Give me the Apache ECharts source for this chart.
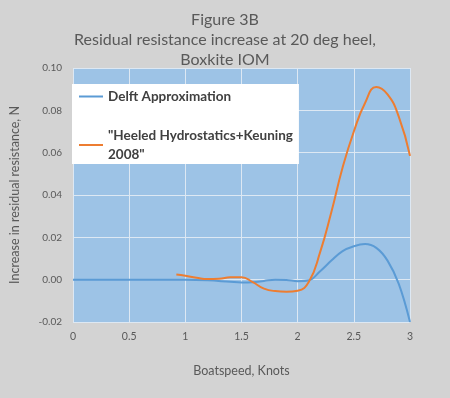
<!DOCTYPE html>
<html>
<head>
<meta charset="utf-8">
<script src="https://cdn.jsdelivr.net/npm/echarts@6/dist/echarts.min.js"></script>
<style>
  html, body { margin: 0; padding: 0; background: #d3d3d3; }
  #chart { width: 450px; height: 398px; }
</style>
</head>
<body>
<div id="chart"></div>
<script>
// Delft approximation, boatspeed (knots) vs residual resistance increase (N)
const delftSpeed = [0, 0.5, 1.0, 1.2, 1.4, 1.5, 1.6, 1.7, 1.8, 1.9, 2.0, 2.1, 2.2, 2.3, 2.4, 2.5, 2.6, 2.7, 2.8, 2.9, 3.0];
const delftValues = [0, 0, 0, -0.0003, -0.001, -0.0013, -0.0012, -0.0006, 0, -0.0001, -0.0007, -0.0003, 0.004, 0.009, 0.0135, 0.0158, 0.0168, 0.015, 0.009, -0.002, -0.02];

// Heeled hydrostatics + Keuning 2008
const keuningSpeed = [0.92, 1.0, 1.1, 1.2, 1.3, 1.4, 1.5, 1.6, 1.7, 1.8, 1.9, 2.0, 2.1, 2.2, 2.3, 2.4, 2.5, 2.6, 2.7, 2.8, 2.9, 3.0];
const keuningValues = [0.0024, 0.0018, 0.0009, 0.0003, 0.0004, 0.0011, 0.0012, -0.0012, -0.0042, -0.0054, -0.0057, -0.0052, -0.001, 0.013, 0.032, 0.053, 0.07, 0.0835, 0.091, 0.0875, 0.077, 0.0585];

const xTicks = [0, 0.5, 1, 1.5, 2, 2.5, 3];
const seriesNames = ['Delft Approximation', '"Heeled Hydrostatics+Keuning 2008"'];

const pairs = (xs, ys) => xs.map((x, i) => [x, ys[i]]);

const chart = echarts.init(document.getElementById('chart'));
const font = 'Lato, "Open Sans", sans-serif';

chart.setOption({
  backgroundColor: '#d3d3d3',
  animation: false,
  title: {
    text: 'Figure 3B\nResidual resistance increase at 20 deg heel,\nBoxkite IOM',
    left: 'center',
    top: 5,
    textStyle: { color: '#595959', fontSize: 16, fontWeight: 'normal', fontFamily: font, lineHeight: 20 }
  },
  legend: {
    orient: 'vertical',
    left: 72,
    top: 84,
    backgroundColor: '#ffffff',
    borderRadius: 0,
    padding: [3, 6, 0, 7],
    itemGap: 20,
    itemWidth: 24,
    itemHeight: 2,
    icon: 'rect',
    formatter: name => name === seriesNames[1] ? '"Heeled Hydrostatics+Keuning\n2008"' : name,
    textStyle: { color: '#404040', fontSize: 13.5, fontWeight: 'bold', fontFamily: font, lineHeight: 19 }
  },
  grid: {
    left: 68, right: 40, top: 68, bottom: 76,
    show: true, backgroundColor: '#9dc3e6', borderWidth: 0
  },
  xAxis: {
    type: 'value',
    min: 0, max: 3, interval: 0.5,
    name: 'Boatspeed, Knots',
    nameLocation: 'middle',
    nameGap: 42,
    nameTextStyle: { color: '#595959', fontSize: 12.5, fontFamily: font },
    axisLine: { show: false },
    axisTick: { show: false },
    axisLabel: {
      color: '#595959', fontSize: 10.5, fontFamily: font, margin: 9,
      formatter: v => xTicks.includes(v) ? String(v) : ''
    },
    splitLine: { show: true, lineStyle: { color: '#dde8f3', width: 1 } }
  },
  yAxis: {
    type: 'value',
    min: -0.02, max: 0.10, interval: 0.02,
    name: 'Increase in residual resistance, N',
    nameLocation: 'middle',
    nameGap: 52,
    nameTextStyle: { color: '#595959', fontSize: 12.5, fontFamily: font },
    axisLine: { show: false },
    axisTick: { show: false },
    axisLabel: { color: '#595959', fontSize: 10, fontFamily: font, margin: 11, formatter: v => v.toFixed(2) },
    splitLine: { show: true, lineStyle: { color: '#dde8f3', width: 1 } }
  },
  series: [
    {
      name: seriesNames[0],
      type: 'line',
      smooth: 0.4,
      showSymbol: false,
      data: pairs(delftSpeed, delftValues),
      lineStyle: { color: '#5b9bd5', width: 2 },
      itemStyle: { color: '#5b9bd5' }
    },
    {
      name: seriesNames[1],
      type: 'line',
      smooth: 0.5,
      showSymbol: false,
      data: pairs(keuningSpeed, keuningValues),
      lineStyle: { color: '#ed7d31', width: 2 },
      itemStyle: { color: '#ed7d31' }
    }
  ]
});
</script>
</body>
</html>
